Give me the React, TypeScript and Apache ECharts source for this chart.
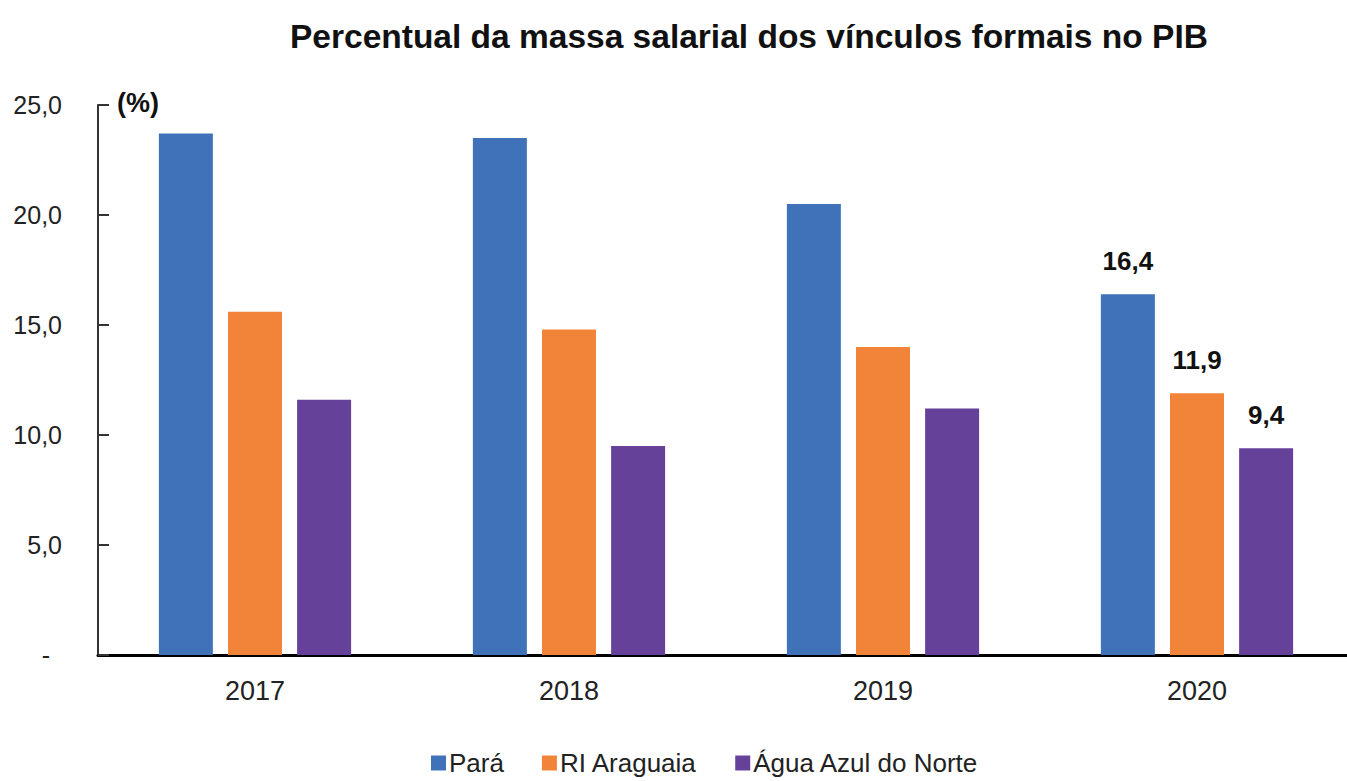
import React, { useEffect, useRef } from "react";
import * as echarts from "echarts";

const categories = ["2017", "2018", "2019", "2020"];
const para = [23.7, 23.5, 20.5, 16.4];
const riAraguaia = [15.6, 14.8, 14.0, 11.9];
const aguaAzul = [11.6, 9.5, 11.2, 9.4];
const seriesNames = ["Pará", "RI Araguaia", "Água Azul do Norte"];
const colors = ["#4072B9", "#F18439", "#65419A"];
const labeledIndex = 3;

const FONT = "'Liberation Sans Narrow', 'Arial Narrow', 'Liberation Sans', Arial, sans-serif";
const fmt = (v: number) => v.toFixed(1).replace(".", ",");

export default function App() {
  const ref = useRef<HTMLDivElement>(null);
  useEffect(() => {
    if (!ref.current) return;
    const chart = echarts.init(ref.current, undefined, { renderer: "svg" });
    const mk = (name: string, vals: number[], color: string) => ({
      name,
      type: "bar",
      barWidth: 54,
      barGap: "28%",
      itemStyle: { color },
      data: vals.map((v, i) =>
        i === labeledIndex
          ? {
              value: v,
              label: {
                show: true,
                position: "top",
                distance: 20,
                formatter: (p: any) => fmt(p.value),
                fontFamily: FONT,
                fontWeight: "bold",
                fontSize: 26,
                color: "#111",
              },
            }
          : v
      ),
    });
    chart.setOption({
      animation: false,
      backgroundColor: "#fff",
      textStyle: { fontFamily: FONT },
      title: {
        text: "Percentual da massa salarial dos vínculos formais no PIB",
        left: 285,
        top: 14,
        textStyle: { fontFamily: FONT, fontWeight: "bold", fontSize: 33.5, color: "#111" },
      },
      legend: {
        data: seriesNames,
        bottom: 0,
        left: 426,
        itemWidth: 15,
        itemHeight: 15,
        itemGap: 38,
        icon: "rect",
        textStyle: { fontFamily: FONT, fontSize: 26, color: "#222", padding: [0, 0, 0, -2] },
      },
      grid: { left: 98, right: 0, top: 105, bottom: 126, containLabel: false },
      xAxis: {
        type: "category",
        data: categories,
        axisLine: { lineStyle: { color: "#000", width: 3 } },
        axisTick: { inside: true, length: 9, lineStyle: { color: "#000", width: 3 } },
        axisLabel: { fontFamily: FONT, fontSize: 27, color: "#222", margin: 22 },
      },
      yAxis: {
        type: "value",
        min: 0,
        max: 25,
        interval: 5,
        axisLine: { show: true, lineStyle: { color: "#333", width: 2 } },
        axisTick: { show: true, inside: true, length: 11, lineStyle: { color: "#333", width: 2 } },
        splitLine: { show: false },
        axisLabel: {
          fontFamily: FONT,
          fontSize: 25,
          color: "#222",
          margin: 36,
          formatter: (v: number) => (v === 0 ? "{d|-}" : fmt(v)),
          rich: { d: { fontFamily: FONT, fontSize: 25, color: "#222", padding: [0, 12, 0, 0] } },
        },
      },
      graphic: [
        {
          type: "text",
          left: 117,
          top: 89,
          style: { text: "(%)", fontFamily: FONT, fontWeight: "bold", fontSize: 27, fill: "#111" },
        },
      ],
      series: [
        mk(seriesNames[0], para, colors[0]),
        mk(seriesNames[1], riAraguaia, colors[1]),
        mk(seriesNames[2], aguaAzul, colors[2]),
      ],
    });
    return () => chart.dispose();
  }, []);
  return (
    <div style={{ position: "fixed", left: 0, top: 0, width: 1347, height: 781, overflow: "hidden" }}>
      <div ref={ref} style={{ width: 1354, height: 781 }} />
    </div>
  );
}
